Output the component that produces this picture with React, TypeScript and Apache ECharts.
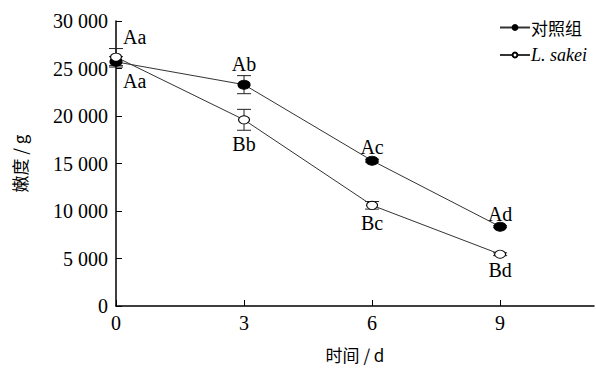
import React, { useEffect, useRef } from "react";
import * as echarts from "echarts";

const days = [0, 3, 6, 9];
const controlMean = [25700, 23300, 15300, 8350];
const controlErr = [550, 950, 150, 100];
const sakeiMean = [26200, 19600, 10600, 5450];
const sakeiErr = [900, 1100, 400, 150];
const controlLabels = ["Aa", "Ab", "Ac", "Ad"];
const sakeiLabels = ["Aa", "Bb", "Bc", "Bd"];
const yTicks = [0, 5000, 10000, 15000, 20000, 25000, 30000];
const xTicks = [0, 3, 6, 9];

const SERIF = "'Liberation Serif', 'Times New Roman', 'Noto Sans CJK SC', serif";
const CJK = "'Noto Sans CJK SC', 'Liberation Serif', sans-serif";

function errSeries(name: string, mean: number[], err: number[], labels: string[], above: boolean) {
  return {
    type: "custom",
    name,
    z: 1,
    data: days.map((d, i) => [d, mean[i], err[i]]),
    renderItem: (params: any, api: any) => {
      const x = api.value(0);
      const m = api.value(1);
      const e = api.value(2);
      const t = api.coord([x, m + e]);
      const b = api.coord([x, m - e]);
      const hw = 7;
      const st = { stroke: "#222", lineWidth: 1 };
      const first = params.dataIndex === 0;
      const lx = first ? t[0] + 7 : t[0];
      const text = labels[params.dataIndex];
      // day-0 labels: the upper one belongs to the higher series
      const up = first ? !above : above;
      return {
        type: "group",
        children: [
          { type: "line", shape: { x1: t[0], y1: t[1], x2: b[0], y2: b[1] }, style: st },
          { type: "line", shape: { x1: t[0] - hw, y1: t[1], x2: t[0] + hw, y2: t[1] }, style: st },
          { type: "line", shape: { x1: b[0] - hw, y1: b[1], x2: b[0] + hw, y2: b[1] }, style: st },
          {
            type: "text",
            x: lx,
            y: up ? t[1] - 2 : b[1] + 4,
            style: {
              text,
              fill: "#000",
              font: `20px ${SERIF}`,
              align: first ? "left" : "center",
              verticalAlign: up ? "bottom" : "top",
            },
          },
        ],
      };
    },
  };
}

export default function App() {
  const ref = useRef<HTMLDivElement>(null);
  useEffect(() => {
    if (!ref.current) return;
    const chart = echarts.init(ref.current, undefined, { renderer: "svg" });
    chart.setOption({
      animation: false,
      backgroundColor: "#fff",
      grid: { left: 116, right: 2, top: 21, bottom: 66 },
      legend: {
        orient: "vertical",
        left: 494,
        top: 14,
        itemWidth: 30,
        itemHeight: 6,
        itemGap: 10,
        data: ["对照组", "L. sakei"],
        formatter: (n: string) => (n === "L. sakei" ? "{i|L. sakei}" : "{c|对照组}"),
        textStyle: {
          padding: [0, 0, 0, -4],
          rich: {
            i: { fontFamily: SERIF, fontStyle: "italic", fontSize: 18, color: "#000" },
            c: { fontFamily: CJK, fontSize: 17, color: "#000" },
          },
        },
      },
      xAxis: {
        type: "value",
        min: 0,
        max: 11.2,
        interval: 3,
        name: "时间 / d",
        nameLocation: "middle",
        nameGap: 40,
        nameTextStyle: { fontFamily: CJK, fontSize: 17, color: "#000" },
        axisLine: { lineStyle: { color: "#000", width: 1.5 } },
        axisTick: { inside: true, length: 6, customValues: xTicks, lineStyle: { color: "#000", width: 1 } },
        axisLabel: { customValues: xTicks, margin: 7, fontFamily: SERIF, fontSize: 20, color: "#000" },
        splitLine: { show: false },
      },
      yAxis: {
        type: "value",
        min: 0,
        max: 30000,
        interval: 5000,
        name: "嫩度 / g",
        nameLocation: "middle",
        nameGap: 88,
        nameRotate: 90,
        nameTextStyle: { fontFamily: CJK, fontSize: 17, color: "#000" },
        axisLine: { show: true, lineStyle: { color: "#000", width: 1.5 } },
        axisTick: { show: true, inside: true, length: 6, customValues: yTicks, lineStyle: { color: "#000", width: 1 } },
        axisLabel: {
          margin: 8,
          fontFamily: SERIF,
          fontSize: 20,
          color: "#000",
          formatter: (v: number) => {
            if (v === 0) return "0";
            const k = Math.floor(v / 1000);
            const r = v % 1000;
            return `${k} ${String(r).padStart(3, "0")}`;
          },
        },
        splitLine: { show: false },
      },
      series: [
        errSeries("errC", controlMean, controlErr, controlLabels, true),
        errSeries("errS", sakeiMean, sakeiErr, sakeiLabels, false),
        {
          type: "line",
          name: "对照组",
          z: 3,
          data: days.map((d, i) => [d, controlMean[i]]),
          symbol: "circle",
          symbolSize: [12, 9],
          itemStyle: { color: "#000", borderColor: "#000", borderWidth: 1 },
          lineStyle: { color: "#333", width: 1 },
        },
        {
          type: "line",
          name: "L. sakei",
          z: 3,
          data: days.map((d, i) => [d, sakeiMean[i]]),
          symbol: "circle",
          symbolSize: [11, 8],
          itemStyle: { color: "#fff", borderColor: "#000", borderWidth: 1 },
          lineStyle: { color: "#333", width: 1 },
        },
      ],
    });
    return () => chart.dispose();
  }, []);
  return <div ref={ref} style={{ width: 596, height: 372, position: "absolute", left: 0, top: 0 }} />;
}
